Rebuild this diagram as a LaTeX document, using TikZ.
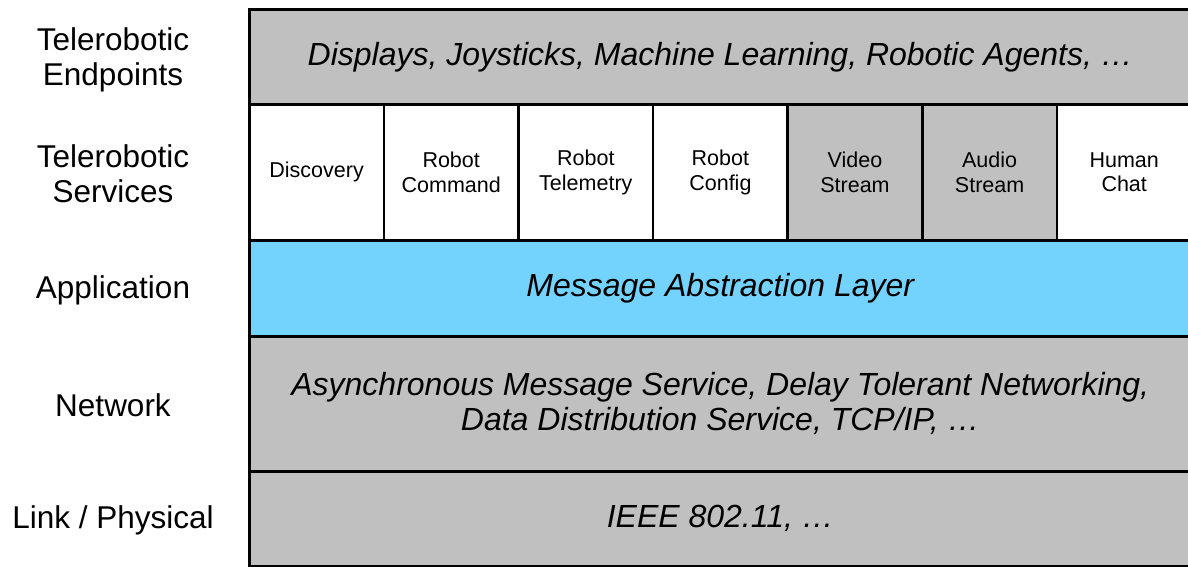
\documentclass[tikz,border=0pt]{standalone}
\usepackage{fontspec}
\setmainfont{Liberation Sans}
\definecolor{layergray}{HTML}{C0C0C0}
\definecolor{layerblue}{HTML}{74D3FD}
\begin{document}
\begin{tikzpicture}[x=1pt,y=-1pt,
  layer/.style={draw=black, line width=2.6pt, rectangle, inner sep=0pt, anchor=north west,
     minimum width=942pt, align=center, font=\fontsize{32}{35}\selectfont\itshape},
  svc/.style={draw=black, line width=2.6pt, rectangle, inner sep=0pt, anchor=north west,
     minimum width=134.6pt, minimum height=136pt, align=center, font=\fontsize{21.5}{24.5}\selectfont},
  side/.style={align=center, font=\fontsize{31.5}{35}\selectfont}]
\useasboundingbox (0,0) rectangle (1188,566);
\fill[white] (0,0) rectangle (1188,566);
% layers
\node[layer, fill=layergray, minimum height=95pt] (endp) at (248,8) {Displays, Joysticks, Machine Learning, Robotic Agents, \dots};
\node[layer, fill=layerblue, minimum height=96pt] (app) at (248,239) {Message Abstraction Layer};
\node[layer, fill=layergray, minimum height=135pt] (net) at (248,335) {Asynchronous Message Service, Delay Tolerant Networking,\\Data Distribution Service, TCP/IP, \dots};
\node[layer, fill=layergray, minimum height=95pt] (link) at (248,470) {IEEE 802.11, \dots};
% services
\node[svc, fill=white] (disc) at (248,103) {Discovery};
\node[svc, fill=white] (cmd) at (382.6,103) {Robot\\Command};
\node[svc, fill=white] (tel) at (517.2,103) {Robot\\Telemetry};
\node[svc, fill=white] (cfg) at (651.8,103) {Robot\\Config};
\node[svc, fill=layergray] (vid) at (786.4,103) {Video\\Stream};
\node[svc, fill=layergray] (aud) at (921,103) {Audio\\Stream};
\node[svc, fill=white] (chat) at (1055.6,103) {Human\\Chat};
% side labels
\node[side] (lendp) at (113,60) {Telerobotic\\Endpoints};
\node[side] (lsvc) at (113,174) {Telerobotic\\Services};
\node[side] (lapp) at (113,290) {Application};
\node[side] (lnet) at (113,405) {Network};
\node[side] (llink) at (113,520) {Link / Physical};
\end{tikzpicture}
\end{document}
